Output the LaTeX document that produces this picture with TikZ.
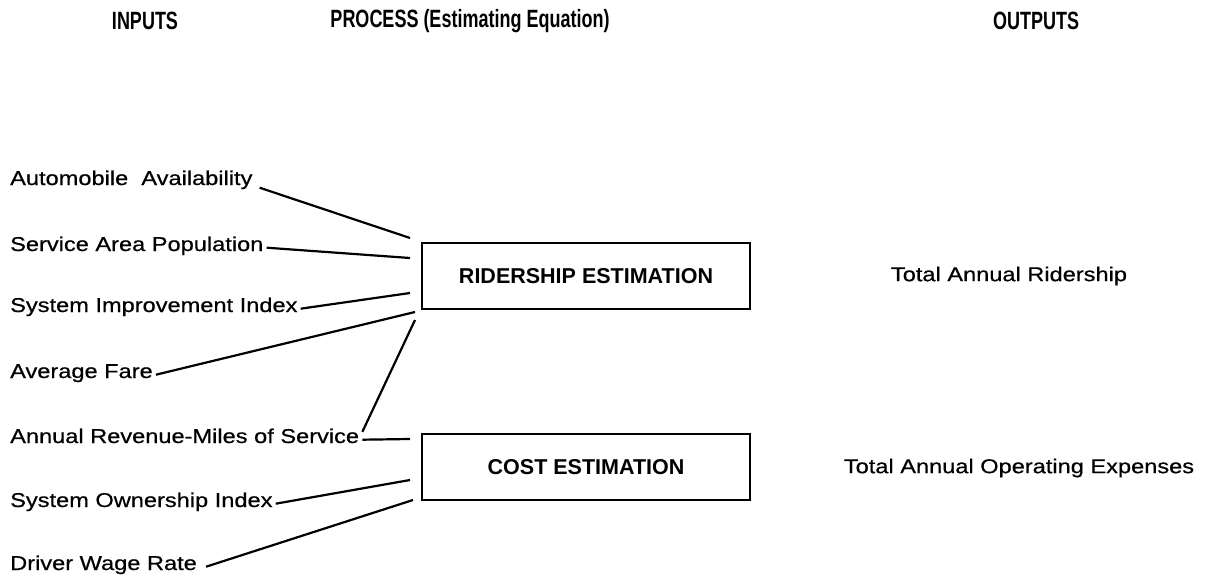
\documentclass[tikz,border=0pt]{standalone}
\usepackage{fontspec}
\setmainfont{Liberation Sans}
\newfontfamily\headfont{Liberation Sans}[FakeStretch=0.72]
\newfontfamily\lblfont{Liberation Sans}[FakeStretch=1.18,FakeBold=0.6]
\usetikzlibrary{
  positioning,
  calc,         % Calculations $...$
}
\tikzset{
  heading/.style={
    font=\headfont\bfseries\fontsize{25}{30}\selectfont
  },
  input/.style={
    anchor=base west,
    inner sep=3pt,
    text height=1.5ex,
    text depth=0.25ex,
    font=\lblfont\fontsize{20}{24}\selectfont
  },
  output/.style={
    font=\lblfont\fontsize{20}{24}\selectfont
  },
  process/.style={
    draw,
    line width=1.5pt,
    minimum width=328pt,
    minimum height=66pt,
    font=\bfseries\fontsize{21.5}{26}\selectfont
  },
  feed/.style={
    line width=2.2pt
  }
}

\begin{document}
\begin{tikzpicture}[x=1pt,y=-1pt]
\useasboundingbox (0,0) rectangle (1213,581);
% column heads
\node[heading] (hin)   at (145,21)  {INPUTS};
\node[heading] (hproc) at (470,21)  {PROCESS (Estimating Equation)};
\node[heading] (hout)  at (1036,21) {OUTPUTS};
% equations
\node[process] (rid)  at (586,276) {RIDERSHIP ESTIMATION};
\node[process] (cost) at (586,467) {COST ESTIMATION};
% inputs
\node[input] (auto)  at (7,185) {Automobile\ \ Availability};
\node[input] (pop)   at (7,251) {Service Area Population};
\node[input] (imp)   at (7,312) {System Improvement Index};
\node[input] (fare)  at (7,378) {Average Fare};
\node[input] (miles) at (7,443) {Annual Revenue-Miles of Service};
\node[input] (own)   at (7,507) {System Ownership Index};
\node[input] (wage)  at (7,570) {Driver Wage Rate};
% outputs
\node[output] (riders)   at (1009,276) {Total Annual Ridership};
\node[output] (expenses) at (1019,468) {Total Annual Operating Expenses};
% line ends beside the boxes
\coordinate (r1) at (410,238);
\coordinate (r2) at (410,258);
\coordinate (r3) at (410,293);
\coordinate (r4) at (415,312);
\coordinate (r5) at (415,320);
\coordinate (c1) at (410,439);
\coordinate (c2) at (410,480);
\coordinate (c3) at (413,500);
\draw[feed] ($(auto.east)+(4,6)$) -- (r1);
\draw[feed] (pop.east)   -- (r2);
\draw[feed] (imp.east)   -- (r3);
\draw[feed] (fare.east)  -- (r4);
\draw[feed] (miles.north east) -- (r5);
\draw[feed] (miles.east) -- (c1);
\draw[feed] (own.east)   -- (c2);
\draw[feed] ($(wage.east)+(6,0)$) -- (c3);
\end{tikzpicture}
\end{document}
